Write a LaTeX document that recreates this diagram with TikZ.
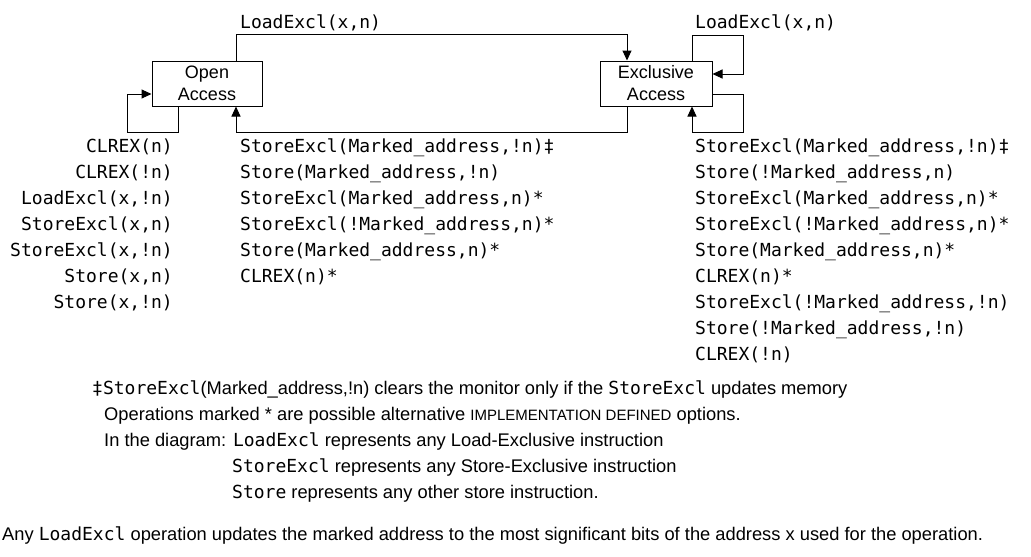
\documentclass[tikz,border=0pt]{standalone}
\usepackage{fontspec}
\setmainfont{Liberation Sans}
\newfontfamily\mono{DejaVu Sans Mono}
\usetikzlibrary{arrows.meta}
\begin{document}
\begin{tikzpicture}[x=1pt,y=-1pt,
  every node/.style={inner sep=0pt,font=\fontsize{18.3}{22}\selectfont},
  box/.style={draw,line width=1pt,minimum height=45pt,align=center,font=\fontsize{18}{22}\selectfont},
  op/.style={font=\fontsize{18}{22}\selectfont\mono},
  conn/.style={line width=1pt,-{Triangle[length=10pt,width=9pt]}},
  note/.style={anchor=base west}]
\useasboundingbox (0,0) rectangle (1031,557);
% states
\node[box,minimum width=110pt] (open) at (207,83.5) {Open\\Access};
\node[box,minimum width=112pt] (excl) at (656,83.5) {Exclusive\\Access};
% connectors
\draw[conn] ([xshift=29pt]open.north) -- ++(0,-26) -| ([xshift=-29pt]excl.north);
\draw[conn] ([xshift=-29pt]excl.south) -- ++(0,26) -| ([xshift=29pt]open.south);
\draw[conn] ([xshift=-29pt]open.south) -- ++(0,26) -- ++(-51,0) |- ([yshift=-10.5pt]open.west);
\draw[conn] ([xshift=36pt]excl.north) -- ++(0,-25) -- ++(51,0) |- ([yshift=9.5pt]excl.east);
\draw[conn] ([yshift=-10.5pt]excl.east) -- ++(31,0) -- ++(0,38) -| ([xshift=36pt]excl.south);
% top labels
\node[op,anchor=base west] (toplbl) at (240,28) {LoadExcl(x,n)};
\node[op,anchor=base west] (rtoplbl) at (695,28) {LoadExcl(x,n)};
% left column
\foreach \t [count=\i] in {{CLREX(n)},{CLREX(!n)},{LoadExcl(x,!n)},{StoreExcl(x,n)},{StoreExcl(x,!n)},{Store(x,n)},{Store(x,!n)}}
  \node[op,anchor=base east] (left\i) at (173,126+26*\i) {\t};
% middle column
\foreach \t [count=\i] in {{StoreExcl(Marked\_address,!n)‡},{Store(Marked\_address,!n)},{StoreExcl(Marked\_address,n)*},{StoreExcl(!Marked\_address,n)*},{Store(Marked\_address,n)*},{CLREX(n)*}}
  \node[op,anchor=base west] (mid\i) at (240,126+26*\i) {\t};
% right column
\foreach \t [count=\i] in {{StoreExcl(Marked\_address,!n)‡},{Store(!Marked\_address,n)},{StoreExcl(Marked\_address,n)*},{StoreExcl(!Marked\_address,n)*},{Store(Marked\_address,n)*},{CLREX(n)*},{StoreExcl(!Marked\_address,!n)},{Store(!Marked\_address,!n)},{CLREX(!n)}}
  \node[op,anchor=base west] (right\i) at (695,126+26*\i) {\t};
% notes
\node[note] (f1) at (92,394) {{\fontsize{18}{22}\selectfont\mono ‡StoreExcl}(Marked\_address,!n) clears the monitor only if the {\fontsize{18}{22}\selectfont\mono StoreExcl} updates memory};
\node[note] (f2) at (104,420) {Operations marked * are possible alternative {\fontsize{15}{15}\selectfont IMPLEMENTATION DEFINED} options.};
\node[note] (f3) at (104,446) {In the diagram: {\fontsize{18}{22}\selectfont\mono LoadExcl} represents any Load-Exclusive instruction};
\node[note] (f4) at (232,472) {{\fontsize{18}{22}\selectfont\mono StoreExcl} represents any Store-Exclusive instruction};
\node[note] (f5) at (232,498) {{\fontsize{18}{22}\selectfont\mono Store} represents any other store instruction.};
\node[note] (last) at (2,540) {Any {\fontsize{18}{22}\selectfont\mono LoadExcl} operation updates the marked address to the most significant bits of the address x used for the operation.};
\end{tikzpicture}
\end{document}
